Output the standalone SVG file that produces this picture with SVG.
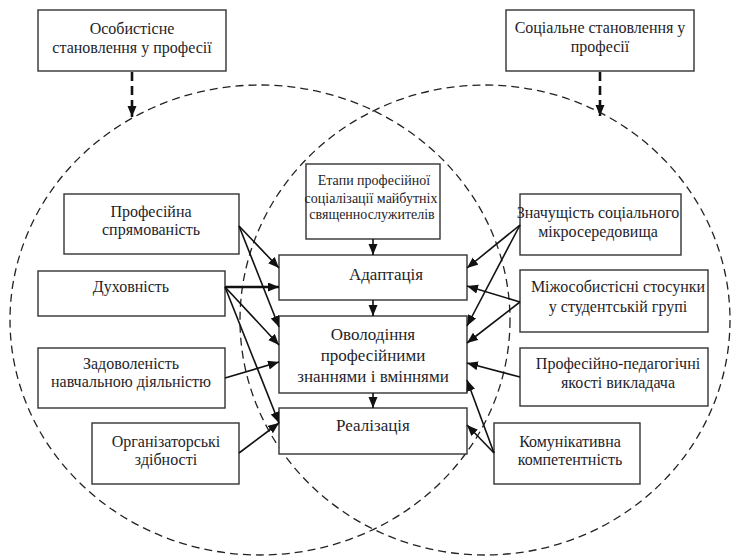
<svg xmlns="http://www.w3.org/2000/svg" width="731" height="558" viewBox="0 0 731 558">
<defs>
<marker id="ah" markerUnits="userSpaceOnUse" markerWidth="12" markerHeight="10" refX="11" refY="4.5" orient="auto">
<path d="M0,0 L11,4.5 L0,9 Z" fill="#111"/>
</marker>
<style>
.box{fill:#fff;stroke:#333;stroke-width:1.4}
.t{font-family:"Liberation Serif","DejaVu Serif",serif;font-size:16px;fill:#1e1e2a;text-anchor:middle}
.c{font-size:17px}
.s{font-size:14px}
.circ{fill:none;stroke:#222;stroke-width:1.3;stroke-dasharray:8,5}
.dash{fill:none;stroke:#111;stroke-width:2.6;stroke-dasharray:9,5}
.ln{fill:none;stroke:#111;stroke-width:1.6;marker-end:url(#ah)}
</style>
</defs>
<rect width="731" height="558" fill="#fff"/>
<g id="circles">
<ellipse class="circ" cx="260" cy="320" rx="250" ry="235"/>
<ellipse class="circ" cx="485" cy="320" rx="245" ry="235"/>
</g>
<g id="n-personal"><rect class="box" x="38" y="10" width="188" height="61"/>
<text class="t" x="132" y="34">Особистісне</text><text class="t" x="132" y="53">становлення у професії</text></g>
<g id="n-social"><rect class="box" x="506" y="10" width="188" height="61"/>
<text class="t" x="600" y="33">Соціальне становлення у</text><text class="t" x="600" y="52">професії</text></g>
<g id="n-stages"><rect class="box" x="306" y="164" width="134" height="75"/>
<text class="t s" x="374" y="185">Етапи професійної</text><text class="t s" x="371" y="203">соціалізації майбутніх</text><text class="t s" x="372" y="219">священнослужителів</text></g>
<g id="n-adapt"><rect class="box" x="279" y="255" width="188" height="45"/>
<text class="t c" x="386" y="280">Адаптація</text></g>
<g id="n-master"><rect class="box" x="279" y="316" width="188" height="77"/>
<text class="t c" x="373" y="340">Оволодіння</text><text class="t c" x="373" y="361">професійними</text><text class="t c" x="373" y="382">знаннями і вміннями</text></g>
<g id="n-real"><rect class="box" x="279" y="408" width="188" height="46"/>
<text class="t c" x="373" y="431">Реалізація</text></g>
<g id="n-orient"><rect class="box" x="64" y="194" width="175" height="60"/>
<text class="t" x="151" y="217">Професійна</text><text class="t" x="151" y="235">спрямованість</text></g>
<g id="n-spirit"><rect class="box" x="38" y="271" width="187" height="45"/>
<text class="t" x="131" y="292">Духовність</text></g>
<g id="n-satisf"><rect class="box" x="38" y="348" width="187" height="60"/>
<text class="t" x="131" y="369">Задоволеність</text><text class="t" x="131" y="387">навчальною діяльністю</text></g>
<g id="n-org"><rect class="box" x="92" y="423" width="147" height="61"/>
<text class="t" x="166" y="447">Організаторські</text><text class="t" x="166" y="465">здібності</text></g>
<g id="n-micro"><rect class="box" x="520" y="194" width="161" height="61"/>
<text class="t" x="598" y="218">Значущість соціального</text><text class="t" x="598" y="237">мікросередовища</text></g>
<g id="n-inter"><rect class="box" x="520" y="270" width="188" height="62"/>
<text class="t" x="618" y="292">Міжособистісні стосунки</text><text class="t" x="618" y="312">у студентській групі</text></g>
<g id="n-teacher"><rect class="box" x="520" y="348" width="188" height="58"/>
<text class="t" x="618" y="369">Професійно-педагогічні</text><text class="t" x="618" y="388">якості викладача</text></g>
<g id="n-comm"><rect class="box" x="494" y="423" width="146" height="61"/>
<text class="t" x="570" y="447">Комунікативна</text><text class="t" x="570" y="465">компетентність</text></g>
<g id="connectors">
<path class="dash" d="M132,72 V117" marker-end="url(#ah)"/>
<path class="dash" d="M600,72 V116" marker-end="url(#ah)"/>
<path class="ln" d="M373,239 V255"/>
<path class="ln" d="M373,300 V316"/>
<path class="ln" d="M373,393 V408"/>
<path class="ln" d="M239,226 L279,268"/>
<path class="ln" d="M239,226 L279,327"/>
<path class="ln" style="stroke-width:2.6" d="M225,287 L279,287"/>
<path class="ln" d="M225,287 L279,345"/>
<path class="ln" d="M225,287 L279,423"/>
<path class="ln" d="M225,378 L279,362"/>
<path class="ln" d="M239,453 L279,423"/>
<path class="ln" d="M520,225 L467,268"/>
<path class="ln" d="M520,225 L467,326"/>
<path class="ln" d="M520,302 L467,286"/>
<path class="ln" d="M520,302 L467,343"/>
<path class="ln" d="M520,377 L467,363"/>
<path class="ln" d="M494,453 L467,380"/>
<path class="ln" d="M494,453 L467,425"/>
</g>
</svg>
